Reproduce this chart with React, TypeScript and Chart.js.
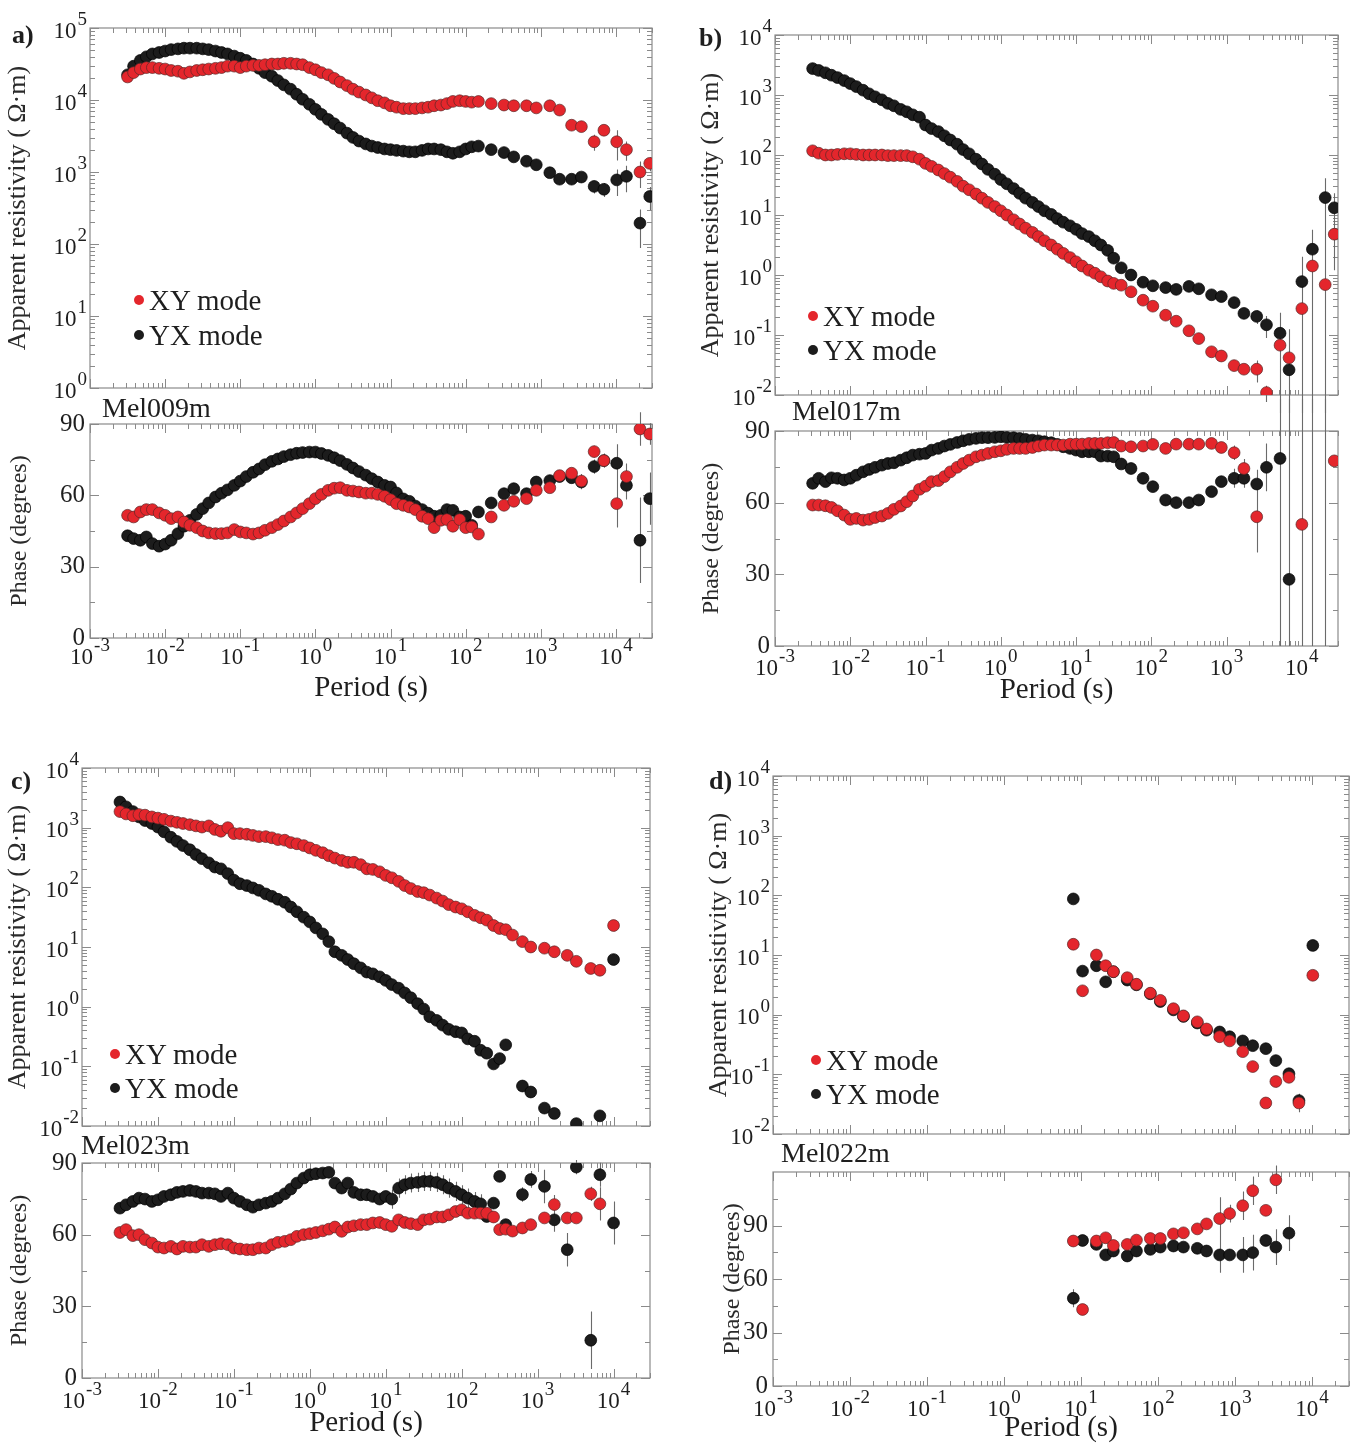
import React, { useEffect, useRef } from 'react';
import { Chart, registerables } from 'chart.js';

Chart.register(...registerables);

const SERIF = "'Liberation Serif', 'DejaVu Serif', 'Times New Roman', serif";
const XY_FILL = '#e4262c';
const XY_EDGE = '#5a2626';
const YX_FILL = '#1c1c1c';
const YX_EDGE = '#000000';
const FRAME = '#8a8a8a';
const ERRBAR = '#6a6a6a';
const TEXT = '#1e1e1e';

const X_MIN = -3;
const X_MAX = 4.48;
const X_DECADES = [-3, -2, -1, 0, 1, 2, 3, 4];

// log10 of period (s) of the densely sampled part, shared by stations
const GRID_LOG_T = [
  -2.5, -2.42, -2.33, -2.25, -2.17, -2.08, -2.0, -1.92, -1.83, -1.75,
  -1.67, -1.58, -1.5, -1.42, -1.33, -1.25, -1.17, -1.08, -1.0, -0.92,
  -0.83, -0.75, -0.67, -0.58, -0.5, -0.42, -0.33, -0.25, -0.17, -0.08,
  0.0, 0.08, 0.17, 0.25, 0.33, 0.42, 0.5, 0.58, 0.67, 0.75,
  0.83, 0.92, 1.0, 1.08, 1.17, 1.25, 1.33, 1.42, 1.5, 1.58,
  1.67, 1.75, 1.83, 1.92, 2.0, 2.08, 2.17, 2.25, 2.33, 2.42,
  2.5, 2.58, 2.67,
];

// ---------- a) Mel009m ----------
const aLogT = [...GRID_LOG_T.slice(0, 57), 2.34, 2.51, 2.64, 2.81, 2.94, 3.12, 3.25, 3.41, 3.54, 3.71, 3.84, 4.01, 4.14, 4.32, 4.45];
const aRhoXY = [
  4.32, 4.38, 4.43, 4.45, 4.45, 4.44, 4.43, 4.41, 4.40, 4.37,
  4.39, 4.41, 4.42, 4.43, 4.44, 4.45, 4.47, 4.47, 4.45, 4.47,
  4.48, 4.48, 4.49, 4.50, 4.50, 4.51, 4.51, 4.50, 4.49, 4.45,
  4.42, 4.38, 4.35, 4.30, 4.25, 4.20, 4.15, 4.11, 4.07, 4.03,
  3.99, 3.96, 3.92, 3.90, 3.88, 3.88, 3.88, 3.89, 3.90, 3.92,
  3.93, 3.95, 3.98, 3.99, 3.98, 3.97, 3.98,
  3.95, 3.93, 3.92, 3.92, 3.89, 3.92, 3.86, 3.65, 3.63, 3.42, 3.58, 3.42, 3.31, 3.0, 3.12,
];
const aRhoYX = [
  4.35, 4.47, 4.55, 4.60, 4.64, 4.66, 4.68, 4.70, 4.71, 4.72,
  4.72, 4.72, 4.71, 4.70, 4.68, 4.66, 4.64, 4.61, 4.58, 4.55,
  4.50, 4.44, 4.38, 4.33, 4.27, 4.21, 4.15, 4.08, 4.01, 3.94,
  3.87, 3.80, 3.73, 3.67, 3.61, 3.54, 3.48, 3.43, 3.39, 3.36,
  3.34, 3.32, 3.31, 3.30, 3.29, 3.28, 3.28, 3.30, 3.32, 3.32,
  3.31, 3.28, 3.26, 3.28, 3.32, 3.35, 3.36,
  3.31, 3.27, 3.21, 3.15, 3.10, 2.99, 2.90, 2.90, 2.93, 2.80, 2.76, 2.89, 2.94, 2.29, 2.66,
];
const aPhXY = [
  51.6, 50.9, 53.0, 54.0, 54.0, 52.6, 51.6, 50.2, 50.9, 48.8,
  47.4, 46.4, 45.0, 44.2, 43.9, 43.9, 44.2, 45.6, 44.6, 44.2,
  43.7, 44.2, 45.3, 46.4, 47.7, 49.2, 50.9, 52.6, 54.4, 56.5,
  58.6, 60.4, 62.1, 63.0, 63.2, 62.1, 61.8, 61.4, 60.9, 60.9,
  60.4, 59.6, 58.2, 56.5, 55.8, 55.1, 54.0, 51.2, 50.2, 46.4,
  49.5, 49.8, 47.0, 49.8, 46.4, 46.7, 43.7,
  50.9, 55.8, 57.5, 58.6, 62.1, 63.2, 68.3, 69.3, 66.0, 78.4, 74.6, 56.5, 67.9, 87.9, 85.8,
];
const aPhYX = [
  43.0, 41.8, 41.1, 42.5, 39.7, 38.6, 39.5, 41.1, 43.9, 47.0,
  49.5, 52.0, 54.4, 56.8, 59.3, 60.9, 62.3, 64.2, 66.0, 67.9,
  69.7, 71.1, 72.9, 74.3, 75.3, 76.3, 77.1, 77.7, 78.0, 78.2,
  78.2, 77.6, 76.8, 75.8, 74.6, 73.0, 71.5, 70.0, 68.5, 67.0,
  65.6, 64.2, 63.5, 61.0, 58.5, 57.5, 55.5, 54.0, 52.5, 51.2,
  51.6, 54.0, 53.7, 50.9, 51.2, 47.4, 53.0,
  56.8, 60.7, 62.8, 60.7, 65.6, 66.2, 67.9, 67.4, 65.6, 72.1, 74.6, 73.5, 64.2, 41.1, 58.6,
];
// errors of the long-period points (relative for resistivity, degrees for phase)
const aRhoXYErr = [0, 0, 0, 0, 0, 0.05, 0.05, 0.1, 0.1, 0.25, 0.12, 0.45, 0.3, 0.4, 0.22];
const aRhoYXErr = [0, 0, 0, 0, 0, 0.05, 0.05, 0.14, 0.1, 0.2, 0.22, 0.4, 0.4, 0.55, 0.35];
const aPhXYErr = [0, 0, 0, 0, 1, 1, 2, 2, 3, 2.5, 2.5, 10, 5.5, 7, 4.5];
const aPhYXErr = [0, 0, 0, 0, 1, 1, 2, 2, 3, 3, 3, 8, 6, 18, 11];

// ---------- b) Mel017m ----------
const bLogT = [...GRID_LOG_T.slice(0, 49), 1.60, 1.73, 1.89, 2.02, 2.19, 2.33, 2.50, 2.63, 2.80, 2.93, 3.10, 3.23, 3.40, 3.53, 3.71, 3.83, 4.0, 4.14, 4.31, 4.43];
const bRhoXY = [
  2.07, 2.03, 2.0, 2.0, 2.01, 2.02, 2.02, 2.01, 2.0, 2.0,
  2.0, 2.0, 1.99, 1.99, 1.99, 1.99, 1.97, 1.93, 1.86, 1.81,
  1.75, 1.69, 1.63, 1.56, 1.48, 1.42, 1.35, 1.28, 1.21, 1.14,
  1.07, 1.0, 0.92, 0.85, 0.78, 0.71, 0.64, 0.57, 0.50, 0.43,
  0.36, 0.29, 0.22, 0.15, 0.08, 0.03, -0.03, -0.10, -0.14,
  -0.17, -0.28, -0.42, -0.52, -0.67, -0.77, -0.93, -1.06, -1.28, -1.35,
  -1.51, -1.57, -1.57, -1.96, -1.17, -1.38, -0.56, 0.15, -0.16, 0.68,
];
const bRhoYX = [
  3.44, 3.41, 3.37, 3.33, 3.29, 3.24, 3.19, 3.14, 3.08, 3.02,
  2.97, 2.92, 2.86, 2.82, 2.76, 2.72, 2.67, 2.63, 2.50, 2.44,
  2.39, 2.32, 2.25, 2.18, 2.09, 2.02, 1.93, 1.85, 1.76, 1.68,
  1.59, 1.52, 1.44, 1.36, 1.28, 1.21, 1.14, 1.07, 1.01, 0.94,
  0.88, 0.82, 0.76, 0.69, 0.64, 0.57, 0.50, 0.41, 0.28,
  0.12, 0.0, -0.12, -0.18, -0.21, -0.24, -0.19, -0.23, -0.33, -0.36,
  -0.46, -0.64, -0.69, -0.83, -0.97, -1.58, -0.11, 0.43, 1.29, 1.12,
];
const bPhXY = [
  59.0, 59.0, 58.7, 58.0, 56.6, 54.8, 53.0, 53.4, 52.7, 53.0,
  53.8, 54.4, 55.5, 57.2, 58.6, 60.4, 62.8, 65.6, 66.9, 68.8,
  69.2, 70.9, 72.9, 74.8, 76.4, 77.8, 79.2, 79.9, 80.6, 81.3,
  81.7, 82.3, 82.7, 82.7, 82.7, 83.1, 83.7, 84.1, 84.1, 84.1,
  84.1, 84.5, 84.5, 84.5, 84.8, 84.8, 84.8, 85.1, 85.2,
  83.7, 83.4, 83.7, 84.4, 82.7, 84.5, 84.5, 84.5, 84.8, 83.1,
  80.9, 74.3, 54.1, null, null, null, 50.9, null, null, 77.5,
];
const bPhYX = [
  68.1, 70.2, 68.8, 70.4, 70.2, 69.5, 70.2, 71.5, 72.9, 73.9,
  74.8, 75.7, 76.4, 76.7, 77.8, 78.8, 79.9, 80.3, 80.6, 82.0,
  82.7, 83.7, 84.4, 85.2, 85.9, 86.5, 86.9, 87.2, 87.2, 87.3,
  87.6, 87.3, 87.2, 86.9, 86.5, 86.2, 85.9, 85.5, 85.1, 84.4,
  83.4, 82.7, 82.0, 81.3, 81.3, 81.3, 79.5, 79.5, 79.2,
  76.2, 74.3, 70.2, 66.7, 61.1, 60.0, 60.0, 61.1, 64.6, 68.8,
  70.2, 70.2, 67.8, 74.8, 78.5, 27.9, null, 120, 120, null,
];
const bRhoXYErr = [0, 0, 0, 0, 0, 0, 0, 0, 0, 0.05, 0.1, 0.15, 0.4, 0.3, 1.5, 2, 1.3, 1.2, 1.2, 0.75];
const bRhoYXErr = [0, 0, 0, 0, 0, 0, 0, 0, 0.05, 0.05, 0.1, 0.15, 0.25, 0.4, 1.2, 3, 1.6, 1.1, 1.1, 0.75];
const bPhXYErr = [0, 0, 0, 0, 0, 0, 0, 0, 0, 1, 3, 4, 15, 0, 0, 0, 999, 0, 0, 2];
const bPhYXErr = [0, 0, 0, 0, 0, 0, 0, 0, 0, 1, 4, 4, 6, 10, 999, 999, 0, 999, 999, 0];

// ---------- c) Mel023m ----------
const cLogT = [...GRID_LOG_T, 2.80, 2.91, 3.09, 3.22, 3.39, 3.51, 3.70, 3.82, 4.0];
const cRhoXY = [
  3.27, 3.23, 3.20, 3.22, 3.21, 3.18, 3.16, 3.14, 3.11, 3.09,
  3.07, 3.05, 3.03, 3.01, 3.03, 2.97, 2.94, 3.0, 2.90, 2.90,
  2.89, 2.87, 2.85, 2.85, 2.83, 2.80, 2.79, 2.75, 2.73, 2.70,
  2.66, 2.62, 2.58, 2.53, 2.49, 2.45, 2.42, 2.42, 2.38, 2.31,
  2.30, 2.26, 2.20, 2.16, 2.10, 2.03, 1.98, 1.93, 1.91, 1.87,
  1.82, 1.77, 1.71, 1.67, 1.64, 1.59, 1.53, 1.49, 1.45, 1.36,
  1.31, 1.29, 1.20,
  1.09, 1.0, 0.98, 0.92, 0.86, 0.76, 0.64, 0.61, 1.36,
];
const cRhoYX = [
  3.43, 3.35, 3.27, 3.18, 3.12, 3.07, 3.01, 2.93, 2.84, 2.77,
  2.70, 2.63, 2.55, 2.48, 2.41, 2.34, 2.31, 2.23, 2.12, 2.06,
  2.03, 1.99, 1.95, 1.89, 1.85, 1.80, 1.75, 1.67, 1.59, 1.50,
  1.42, 1.32, 1.22, 1.09, 0.92, 0.86, 0.79, 0.72, 0.65, 0.58,
  0.55, 0.50, 0.44, 0.37, 0.31, 0.23, 0.15, 0.05, -0.04, -0.17,
  -0.23, -0.31, -0.38, -0.42, -0.44, -0.54, -0.58, -0.73, -0.78, -0.96,
  -0.87, -0.64, null,
  -1.33, -1.43, -1.70, -1.79, null, -1.96, null, -1.83, 0.79,
];
const cPhXY = [
  60.9, 62.1, 59.6, 60.0, 57.9, 56.5, 54.8, 54.4, 55.1, 54.0,
  55.1, 54.8, 54.8, 55.8, 55.1, 55.8, 56.2, 55.8, 54.4, 54.0,
  53.7, 53.7, 54.4, 54.4, 55.8, 56.8, 57.2, 57.9, 59.3, 60.0,
  60.4, 60.9, 61.6, 62.3, 63.2, 61.4, 63.2, 63.7, 64.2, 64.2,
  64.9, 65.1, 64.2, 63.5, 66.2, 65.1, 64.6, 64.2, 66.2, 66.5,
  67.4, 67.4, 68.3, 69.7, 70.4, 69.0, 69.0, 69.0, 69.0, 67.4,
  62.1, 62.3, 61.5,
  62.8, 64.2, 67.0, 72.6, 67.0, 67.0, 77.1, 72.9, null,
];
const cPhYX = [
  71.1, 72.5, 73.9, 75.3, 74.9, 73.9, 74.6, 76.0, 76.7, 77.7,
  78.1, 78.5, 78.1, 77.4, 77.4, 77.1, 76.0, 77.4, 75.3, 73.9,
  72.5, 71.5, 72.5, 73.2, 73.9, 75.3, 77.1, 79.1, 81.6, 83.7,
  85.1, 85.5, 85.8, 86.1, 81.6, 79.5, 81.6, 77.7, 76.7, 76.7,
  76.0, 74.9, 76.0, 74.9, 79.5, 80.9, 81.6, 81.9, 82.3, 82.3,
  81.9, 80.9, 79.5, 78.1, 76.7, 75.3, 73.9, 72.9, 67.6, 73.2,
  84.4, 64.2, null,
  76.8, 83.1, 80.2, 66.2, 53.7, 88.3, 15.8, 85.1, 64.9,
];
const cRhoXYErr = [0, 0, 0, 0, 0, 0, 0.05, 0.1, 0.2];
const cRhoYXErr = [0, 0, 0, 0, 0, 0, 0, 0.1, 0.2];
const cPhXYErr = [2, 2, 2, 4, 2, 2, 3, 7, 0];
const cPhYXErr = [3, 3.5, 7, 5, 7, 3, 12, 5, 9];
const cPhYXErrDense = [
  0, 0, 0, 0, 0, 0, 0, 0, 0, 0,
  0, 0, 0, 0, 0, 0, 0, 0, 0, 0,
  0, 0, 0, 0, 0, 0, 0, 0, 0, 0,
  0, 0, 0, 0, 0, 0, 0, 0, 0, 0,
  0, 0, 0, 4, 4, 4, 4, 4, 4, 4,
  4, 4, 4, 4, 4, 4, 4, 4, 0, 0,
  0, 0, 0,
];

// ---------- d) Mel022m ----------
const dLogT = [0.90, 1.02, 1.20, 1.32, 1.42, 1.60, 1.72, 1.90, 2.03, 2.20, 2.33, 2.51, 2.63, 2.80, 2.93, 3.10, 3.23, 3.40, 3.53, 3.70, 3.83, 4.01];
const dRhoXY = [1.18, 0.40, 1.0, 0.82, 0.72, 0.62, 0.51, 0.36, 0.24, 0.10, -0.02, -0.12, -0.24, -0.37, -0.44, -0.62, -0.87, -1.48, -1.12, -1.05, -1.48, 0.66];
const dRhoYX = [1.94, 0.73, 0.82, 0.55, 0.72, 0.58, 0.50, 0.35, 0.22, 0.08, -0.03, -0.14, -0.26, -0.29, -0.37, -0.44, -0.52, -0.57, -0.77, -0.99, -1.44, 1.16];
const dPhXY = [81.3, 42.9, 81.3, 83.1, 78.8, 79.4, 81.8, 82.7, 82.7, 85.3, 85.9, 88.1, 90.9, 93.9, 96.7, 101.1, 109.5, 98.5, 115.6, null, null, null];
const dPhYX = [49.2, 81.6, 79.4, 73.5, 75.7, 72.9, 75.7, 76.6, 77.9, 78.5, 77.9, 77.2, 75.7, 73.5, 73.5, 73.5, 74.8, 81.6, 77.9, 85.7, null, null];
const dRhoXYErr = [0.05, 0.05, 0.05, 0.05, 0.05, 0, 0, 0, 0, 0, 0, 0, 0, 0.05, 0.1, 0.1, 0.15, 0.1, 0.2, 0.2, 0.3, 0.2];
const dRhoYXErr = [0.15, 0.05, 0.05, 0.05, 0, 0, 0, 0, 0, 0, 0, 0, 0, 0.1, 0.15, 0.15, 0.15, 0.1, 0.2, 0.15, 0.3, 0.2];
const dPhXYErr = [0, 0, 0, 0, 0, 0, 0, 0, 0, 0, 0, 0, 0, 12, 5, 8, 8, 3, 8, 0, 0, 0];
const dPhYXErr = [5, 0, 0, 0, 0, 0, 0, 0, 0, 0, 0, 0, 0, 10, 0, 10, 10, 3, 10, 10, 0, 0];

// ---------- text ----------
const RES_TITLE = 'Apparent resistivity ( Ω·m)';
const PH_TITLE = 'Phase (degrees)';
const X_TITLE = 'Period (s)';
const XY_LABEL = 'XY mode';
const YX_LABEL = 'YX mode';

// ---------- helpers ----------
const padErr = (n: number, sparse: number[]) => [...new Array(n).fill(0), ...sparse];
const logMinor = (from: number, to: number) => {
  const out: number[] = [];
  for (let n = Math.floor(from); n < to; n++) {
    for (let k = 2; k <= 9; k++) {
      const v = n + Math.log10(k);
      if (v > from && v < to) out.push(v);
    }
  }
  return out;
};

type Kind = 'res' | 'phase';
interface Series { label: string; logT: number[]; vals: (number | null)[]; err: number[]; fill: string; edge: string; }
interface Plot {
  id: string; kind: Kind; L: number; T: number; R: number; B: number; top: number;
  yMin: number; yMax: number; yMajor: number[]; yMinor: number[];
  yTitleX: number; xTitleY?: number; xLabelDy?: number; series: Series[];
}

const xy = (logT: number[], vals: (number | null)[], err: number[]): Series => ({ label: XY_LABEL, logT, vals, err, fill: XY_FILL, edge: XY_EDGE });
const yx = (logT: number[], vals: (number | null)[], err: number[]): Series => ({ label: YX_LABEL, logT, vals, err, fill: YX_FILL, edge: YX_EDGE });

const RES_MAJOR_5 = [0, 1, 2, 3, 4, 5];
const RES_MAJOR_6 = [-2, -1, 0, 1, 2, 3, 4];
const PH_MAJOR = [0, 30, 60, 90];

const PLOTS: Plot[] = [
  {
    id: 'aRes', kind: 'res', L: 90, T: 28, R: 652, B: 388, top: 2, yMin: 0, yMax: 5,
    yMajor: RES_MAJOR_5, yMinor: logMinor(0, 5), yTitleX: 18,
    series: [xy(aLogT, aRhoXY, padErr(57, aRhoXYErr)), yx(aLogT, aRhoYX, padErr(57, aRhoYXErr))],
  },
  {
    id: 'aPh', kind: 'phase', L: 90, T: 424, R: 652, B: 638, top: 392, yMin: 0, yMax: 90,
    yMajor: PH_MAJOR, yMinor: [15, 45, 75], yTitleX: 20, xTitleY: 688, xLabelDy: 18,
    series: [xy(aLogT, aPhXY, padErr(57, aPhXYErr)), yx(aLogT, aPhYX, padErr(57, aPhYXErr))],
  },
  {
    id: 'bRes', kind: 'res', L: 775, T: 35, R: 1338, B: 395, top: 9, yMin: -2, yMax: 4,
    yMajor: RES_MAJOR_6, yMinor: logMinor(-2, 4), yTitleX: 711,
    series: [xy(bLogT, bRhoXY, padErr(49, bRhoXYErr)), yx(bLogT, bRhoYX, padErr(49, bRhoYXErr))],
  },
  {
    id: 'bPh', kind: 'phase', L: 775, T: 431, R: 1338, B: 646, top: 399, yMin: 0, yMax: 90,
    yMajor: PH_MAJOR, yMinor: [15, 45, 75], yTitleX: 712, xTitleY: 690, xLabelDy: 21,
    series: [xy(bLogT, bPhXY, padErr(49, bPhXYErr)), yx(bLogT, bPhYX, padErr(49, bPhYXErr))],
  },
  {
    id: 'cRes', kind: 'res', L: 82, T: 768, R: 650, B: 1126, top: 742, yMin: -2, yMax: 4,
    yMajor: RES_MAJOR_6, yMinor: logMinor(-2, 4), yTitleX: 18,
    series: [xy(cLogT, cRhoXY, padErr(63, cRhoXYErr)), yx(cLogT, cRhoYX, padErr(63, cRhoYXErr))],
  },
  {
    id: 'cPh', kind: 'phase', L: 82, T: 1163, R: 650, B: 1378, top: 1130, yMin: 0, yMax: 90,
    yMajor: PH_MAJOR, yMinor: [15, 45, 75], yTitleX: 20, xTitleY: 1423, xLabelDy: 22,
    series: [xy(cLogT, cPhXY, padErr(63, cPhXYErr)), yx(cLogT, cPhYX, [...cPhYXErrDense, ...cPhYXErr])],
  },
  {
    id: 'dRes', kind: 'res', L: 773, T: 776, R: 1349, B: 1134, top: 750, yMin: -2, yMax: 4,
    yMajor: RES_MAJOR_6, yMinor: logMinor(-2, 4), yTitleX: 719,
    series: [xy(dLogT, dRhoXY, dRhoXYErr), yx(dLogT, dRhoYX, dRhoYXErr)],
  },
  {
    id: 'dPh', kind: 'phase', L: 773, T: 1172, R: 1349, B: 1386, top: 1138, yMin: 0, yMax: 120,
    yMajor: PH_MAJOR, yMinor: [15, 45, 75, 105], yTitleX: 733, xTitleY: 1428, xLabelDy: 22,
    series: [xy(dLogT, dPhXY, dPhXYErr), yx(dLogT, dPhYX, dPhYXErr)],
  },
];

const AXW = 92;
const PAD_R = 14;
const RES_PAD_B = 18;
const X_AXIS_H = 66;
const BASE_SIZE = 23;
const EXP_SIZE = 19;
const PH_TICK_SIZE = 25;
const RES_TITLE_SIZE = 26;
const PH_TITLE_SIZE = 24;
const X_TITLE_SIZE = 29;

function canvasBox(p: Plot) {
  const left = p.L - AXW;
  const width = p.R + PAD_R - left;
  const bottom = p.kind === 'res' ? p.B + RES_PAD_B : p.B + X_AXIS_H;
  return { left, top: p.top, width, height: bottom - p.top };
}

// draws a "10^n" tick label: base "10" with a raised exponent
function drawPow(ctx: CanvasRenderingContext2D, n: number, x: number, yc: number, align: 'right' | 'center') {
  const exp = String(n);
  const baseFont = `${BASE_SIZE}px ${SERIF}`;
  const expFont = `${EXP_SIZE}px ${SERIF}`;
  ctx.font = baseFont;
  const wb = ctx.measureText('10').width;
  ctx.font = expFont;
  const we = ctx.measureText(exp).width;
  const total = wb + 1 + we;
  const x0 = align === 'right' ? x - total : x - total / 2;
  ctx.textAlign = 'left';
  ctx.textBaseline = 'alphabetic';
  ctx.fillStyle = TEXT;
  ctx.font = baseFont;
  ctx.fillText('10', x0, yc + 7.5);
  ctx.font = expFont;
  ctx.fillText(exp, x0 + wb + 1, yc - 5);
}

function buildChart(canvas: HTMLCanvasElement, p: Plot): Chart {
  const box = canvasBox(p);
  const isRes = p.kind === 'res';
  const xMinor = logMinor(X_MIN, X_MAX);
  const yTitleSize = isRes ? RES_TITLE_SIZE : PH_TITLE_SIZE;
  const yLh = yTitleSize * 1.2;
  const xLh = X_TITLE_SIZE * 1.2;

  const framePlugin = {
    id: 'mtFrame' + p.id,
    beforeDatasetsDraw(chart: any) {
      const { ctx, chartArea: a, scales } = chart;
      const xs = scales.x;
      const ys = scales.y;
      ctx.save();
      ctx.strokeStyle = FRAME;
      ctx.lineWidth = 1.2;
      ctx.strokeRect(a.left, a.top, a.right - a.left, a.bottom - a.top);
      ctx.beginPath();
      const xt = (v: number, len: number) => {
        const px = Math.round(xs.getPixelForValue(v)) + 0.5;
        ctx.moveTo(px, a.bottom); ctx.lineTo(px, a.bottom - len);
        ctx.moveTo(px, a.top); ctx.lineTo(px, a.top + len);
      };
      const yt = (v: number, len: number) => {
        const py = Math.round(ys.getPixelForValue(v)) + 0.5;
        ctx.moveTo(a.left, py); ctx.lineTo(a.left + len, py);
        ctx.moveTo(a.right, py); ctx.lineTo(a.right - len, py);
      };
      X_DECADES.forEach((v) => xt(v, 9));
      xMinor.forEach((v) => xt(v, 5));
      p.yMajor.forEach((v) => yt(v, 9));
      p.yMinor.forEach((v) => yt(v, 5));
      ctx.lineWidth = 1;
      ctx.stroke();
      ctx.restore();
    },
  };

  const errPlugin = {
    id: 'mtErr' + p.id,
    beforeDatasetsDraw(chart: any) {
      const { ctx, scales, chartArea: a } = chart;
      const xs = scales.x;
      const ys = scales.y;
      ctx.save();
      ctx.strokeStyle = ERRBAR;
      ctx.lineWidth = 1.1;
      ctx.beginPath();
      p.series.forEach((s) => {
        s.logT.forEach((t, i) => {
          const v = s.vals[i];
          const e = s.err[i] || 0;
          if (v == null || !e) return;
          let lo: number;
          let hi: number;
          if (isRes) {
            lo = e < 1 ? v + Math.log10(1 - e) : v - 50;
            hi = v + Math.log10(1 + e);
          } else {
            lo = v - e;
            hi = v + e;
          }
          const px = Math.round(xs.getPixelForValue(t)) + 0.5;
          const maxY = isRes ? 3000 : a.bottom;
          const clamp = (y: number) => Math.max(-3000, Math.min(maxY, y));
          ctx.moveTo(px, clamp(ys.getPixelForValue(lo)));
          ctx.lineTo(px, clamp(ys.getPixelForValue(hi)));
        });
      });
      ctx.stroke();
      ctx.restore();
    },
  };

  const powLabelPlugin = {
    id: 'mtPow' + p.id,
    afterDraw(chart: any) {
      const { ctx, chartArea: a, scales } = chart;
      ctx.save();
      if (isRes) {
        p.yMajor.forEach((v) => drawPow(ctx, v, a.left - 3, scales.y.getPixelForValue(v) + 2, 'right'));
      } else {
        const yc = a.bottom + (p.xLabelDy ?? 20);
        X_DECADES.forEach((v) => drawPow(ctx, v, scales.x.getPixelForValue(v), yc, 'center'));
      }
      ctx.restore();
    },
  };

  return new Chart(canvas, {
    type: 'scatter',
    data: {
      datasets: p.series.map((s) => ({
        label: s.label,
        data: s.logT.map((x, i) => ({ x, y: s.vals[i] as any })),
        pointRadius: 5.9,
        pointHoverRadius: 5.9,
        pointBackgroundColor: s.fill,
        pointBorderColor: s.edge,
        pointBorderWidth: 0.7,
        showLine: false,
      })),
    },
    options: {
      animation: false,
      responsive: false,
      maintainAspectRatio: false,
      devicePixelRatio: 1,
      events: [],
      layout: { padding: { left: 0, top: p.T - p.top, right: PAD_R, bottom: isRes ? RES_PAD_B : 0 } },
      plugins: { legend: { display: false }, tooltip: { enabled: false }, title: { display: false } },
      scales: {
        x: {
          type: 'linear',
          position: 'bottom',
          min: X_MIN,
          max: X_MAX,
          display: !isRes,
          afterBuildTicks: (s: any) => { s.ticks = X_DECADES.map((value) => ({ value })); },
          afterFit: (s: any) => { if (!isRes) s.height = X_AXIS_H; },
          grid: { display: false, drawTicks: false },
          border: { display: false },
          ticks: { display: false },
          title: {
            display: !isRes,
            text: X_TITLE,
            color: TEXT,
            font: { family: SERIF, size: X_TITLE_SIZE, lineHeight: 1.2 },
            padding: { top: 0, bottom: p.xTitleY ? X_AXIS_H - (p.xTitleY - p.B) - xLh / 2 : 0 },
          },
        },
        y: {
          type: 'linear',
          position: 'left',
          min: p.yMin,
          max: p.yMax,
          afterBuildTicks: (s: any) => { s.ticks = p.yMajor.map((value) => ({ value })); },
          afterFit: (s: any) => { s.width = AXW; },
          grid: { display: false, drawTicks: false },
          border: { display: false },
          ticks: {
            display: !isRes,
            autoSkip: false, padding: 5, color: TEXT,
            font: { family: SERIF, size: PH_TICK_SIZE, lineHeight: 1.2 },
            callback: (v: any) => String(v),
          },
          title: {
            display: true,
            text: isRes ? RES_TITLE : PH_TITLE,
            color: '#2a2a2a',
            font: { family: SERIF, size: yTitleSize, lineHeight: 1.2 },
            padding: { top: p.yTitleX - box.left - yLh / 2, bottom: 0 },
          },
        },
      },
    } as any,
    plugins: [framePlugin, errPlugin, powLabelPlugin],
  });
}

function PlotCanvas({ p }: { p: Plot }) {
  const ref = useRef<HTMLCanvasElement | null>(null);
  const box = canvasBox(p);
  useEffect(() => {
    if (!ref.current) return;
    const chart = buildChart(ref.current, p);
    return () => chart.destroy();
  }, [p]);
  return (
    <canvas
      ref={ref}
      width={box.width}
      height={box.height}
      style={{ position: 'absolute', left: box.left, top: box.top, width: box.width, height: box.height }}
    />
  );
}

// ---------- overlay texts ----------
interface Label { text: string; x: number; y: number; size: number; bold?: boolean; }
const LABELS: Label[] = [
  { text: 'a)', x: 12, y: 35, size: 26, bold: true },
  { text: 'b)', x: 699, y: 38, size: 26, bold: true },
  { text: 'c)', x: 11, y: 781, size: 26, bold: true },
  { text: 'd)', x: 709, y: 781, size: 26, bold: true },
  { text: 'Mel009m', x: 102, y: 408, size: 28 },
  { text: 'Mel017m', x: 792, y: 411, size: 28 },
  { text: 'Mel023m', x: 81, y: 1145, size: 28 },
  { text: 'Mel022m', x: 781, y: 1153, size: 28 },
];
interface LegendPos { x: number; y1: number; y2: number; }
const LEGENDS: LegendPos[] = [
  { x: 139, y1: 300, y2: 335 },
  { x: 813, y1: 316, y2: 350 },
  { x: 115, y1: 1054, y2: 1088 },
  { x: 816, y1: 1060, y2: 1094 },
];
const LEGEND_SIZE = 29;

function Text({ l }: { l: Label }) {
  return (
    <div
      style={{
        position: 'absolute', left: l.x, top: l.y - l.size / 2, fontFamily: SERIF, fontSize: l.size,
        lineHeight: 1, fontWeight: l.bold ? 'bold' : 'normal', color: TEXT, whiteSpace: 'nowrap',
      }}
    >
      {l.text}
    </div>
  );
}

function LegendItem({ x, y, fill, text }: { x: number; y: number; fill: string; text: string }) {
  return (
    <>
      <div style={{ position: 'absolute', left: x - 5, top: y - 5, width: 10, height: 10, borderRadius: '50%', background: fill }} />
      <div
        style={{
          position: 'absolute', left: x + 10, top: y - LEGEND_SIZE / 2, fontFamily: SERIF, fontSize: LEGEND_SIZE,
          lineHeight: 1, color: TEXT, whiteSpace: 'nowrap',
        }}
      >
        {text}
      </div>
    </>
  );
}

export default function App() {
  return (
    <div style={{ position: 'absolute', left: 0, top: 0, width: 1355, height: 1443, background: '#ffffff', overflow: 'hidden' }}>
      {PLOTS.map((p) => (
        <PlotCanvas key={p.id} p={p} />
      ))}
      {LABELS.map((l) => (
        <Text key={l.text} l={l} />
      ))}
      {LEGENDS.map((g, i) => (
        <React.Fragment key={i}>
          <LegendItem x={g.x} y={g.y1} fill={XY_FILL} text={XY_LABEL} />
          <LegendItem x={g.x} y={g.y2} fill={YX_FILL} text={YX_LABEL} />
        </React.Fragment>
      ))}
    </div>
  );
}
